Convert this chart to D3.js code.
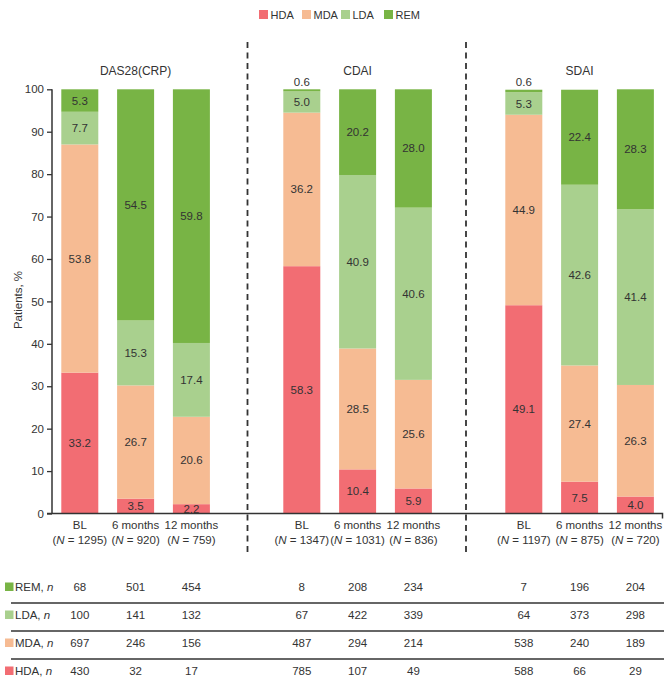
<!DOCTYPE html>
<html><head><meta charset="utf-8">
<script src="https://cdn.jsdelivr.net/npm/d3@7"></script>
<style>
body{margin:0;background:#fff;}
text{font-family:"Liberation Sans",Arial,sans-serif;fill:#333;}
</style></head>
<body><svg id="chart" width="669" height="686"></svg>
<script>
const indices = ["DAS28(CRP)", "CDAI", "SDAI"];
const timepoints = ["BL", "6 months", "12 months"];
const sampleSizes = [[1295, 920, 759], [1347, 1031, 836], [1197, 875, 720]];
const categories = ["HDA", "MDA", "LDA", "REM"];
const hdaPct = [[33.2, 3.5, 2.2], [58.3, 10.4, 5.9], [49.1, 7.5, 4.0]];
const mdaPct = [[53.8, 26.7, 20.6], [36.2, 28.5, 25.6], [44.9, 27.4, 26.3]];
const ldaPct = [[7.7, 15.3, 17.4], [5.0, 40.9, 40.6], [5.3, 42.6, 41.4]];
const remPct = [[5.3, 54.5, 59.8], [0.6, 20.2, 28.0], [0.6, 22.4, 28.3]];
const remN = [[68, 501, 454], [8, 208, 234], [7, 196, 204]];
const ldaN = [[100, 141, 132], [67, 422, 339], [64, 373, 298]];
const mdaN = [[697, 246, 156], [487, 294, 214], [538, 240, 189]];
const hdaN = [[430, 32, 17], [785, 107, 49], [588, 66, 29]];
const yTicks = [0, 10, 20, 30, 40, 50, 60, 70, 80, 90, 100];

const colors = {HDA: "#f26d73", MDA: "#f6bb93", LDA: "#a9d08e", REM: "#78b445"};
const pctBy = {HDA: hdaPct, MDA: mdaPct, LDA: ldaPct, REM: remPct};

const svg = d3.select("#chart");
const y = d3.scaleLinear().domain([0, 100]).range([513.5, 89.3]);
const xGroup = d3.scalePoint().domain(indices).range([135.6, 579.6]);
const xInner = d3.scalePoint().domain(timepoints).range([-55.8, 55.8]);
const barW = 37;
const cx = (gi, ti) => xGroup(indices[gi]) + xInner(timepoints[ti]);

// legend
const legX = [259, 302, 341, 384];
const leg = svg.append("g");
categories.forEach((c, i) => {
  leg.append("rect").attr("x", legX[i]).attr("y", 10).attr("width", 9).attr("height", 9).attr("fill", colors[c]);
  leg.append("text").attr("x", legX[i] + 11.5).attr("y", 18.5).attr("font-size", 11).text(c);
});

// dividers
[247.5, 466].forEach(x => {
  svg.append("line").attr("x1", x).attr("x2", x).attr("y1", 42).attr("y2", 554)
    .attr("stroke", "#333").attr("stroke-width", 1.8).attr("stroke-dasharray", "6,4.5");
});

// titles
indices.forEach(ind => {
  svg.append("text").attr("x", xGroup(ind)).attr("y", 75).attr("text-anchor", "middle")
    .attr("font-size", 12).text(ind);
});

// bars
indices.forEach((ind, gi) => {
  timepoints.forEach((tp, ti) => {
    let base = 0;
    categories.forEach(c => {
      const v = pctBy[c][gi][ti];
      const top = Math.min(100, base + v);
      const y0 = y(base), y1 = y(top);
      svg.append("rect").attr("x", cx(gi, ti) - barW / 2).attr("y", y1)
        .attr("width", barW).attr("height", Math.max(0, y0 - y1)).attr("fill", colors[c]);
      if (v < 1) {
        svg.append("text").attr("x", cx(gi, ti)).attr("y", y(100) - 3).attr("text-anchor", "middle")
          .attr("font-size", 11.5).text(v.toFixed(1));
      } else {
        svg.append("text").attr("x", cx(gi, ti)).attr("y", (y0 + y1) / 2 + 4).attr("text-anchor", "middle")
          .attr("font-size", 11.5).text(v.toFixed(1));
      }
      base = top;
    });
  });
});

// y axis
const yAxis = d3.axisLeft(y).tickValues(yTicks).tickSize(5).tickPadding(3);
const ya = svg.append("g").attr("transform", "translate(52,0)").call(yAxis);
ya.select(".domain").attr("stroke", "#333").attr("stroke-width", 1.5).attr("d", "M0,89.3V513.5");
ya.selectAll(".tick line").attr("stroke", "#333").attr("stroke-width", 1.3);
ya.selectAll(".tick text").attr("font-size", 11.5).attr("font-family", "Liberation Sans, Arial, sans-serif").attr("fill", "#333");

svg.append("text").attr("transform", "translate(22,300) rotate(-90)").attr("text-anchor", "middle")
  .attr("font-size", 11.5).text("Patients, %");

// x axis line
svg.append("path").attr("d", `M47,${y(0)}H662.5V${y(0) + 5}`).attr("fill", "none")
  .attr("stroke", "#333").attr("stroke-width", 1.5);

// x labels
indices.forEach((ind, gi) => {
  timepoints.forEach((tp, ti) => {
    const x = cx(gi, ti);
    svg.append("text").attr("x", x).attr("y", 529).attr("text-anchor", "middle").attr("font-size", 11.5).text(tp);
    const t = svg.append("text").attr("x", x).attr("y", 544).attr("text-anchor", "middle").attr("font-size", 11.5);
    t.append("tspan").text("(");
    t.append("tspan").attr("font-style", "italic").text("N");
    t.append("tspan").text(" = " + sampleSizes[gi][ti] + ")");
  });
});

// table
const rows = [
  {c: "REM", n: remN, y: 591},
  {c: "LDA", n: ldaN, y: 619},
  {c: "MDA", n: mdaN, y: 647},
  {c: "HDA", n: hdaN, y: 675}
];
rows.forEach((r, ri) => {
  svg.append("rect").attr("x", 5).attr("y", r.y - 8.5).attr("width", 8.5).attr("height", 8.5).attr("fill", colors[r.c]);
  const t = svg.append("text").attr("x", 15).attr("y", r.y).attr("font-size", 11.5);
  t.append("tspan").text(r.c + ", ");
  t.append("tspan").attr("font-style", "italic").text("n");
  indices.forEach((ind, gi) => {
    timepoints.forEach((tp, ti) => {
      svg.append("text").attr("x", cx(gi, ti)).attr("y", r.y).attr("text-anchor", "middle")
        .attr("font-size", 11.5).text(r.n[gi][ti]);
    });
  });
  if (ri < rows.length - 1) {
    svg.append("line").attr("x1", 11).attr("x2", 664).attr("y1", r.y + 12).attr("y2", r.y + 12)
      .attr("stroke", "#333").attr("stroke-width", 1.5);
  }
});
</script></body></html>
